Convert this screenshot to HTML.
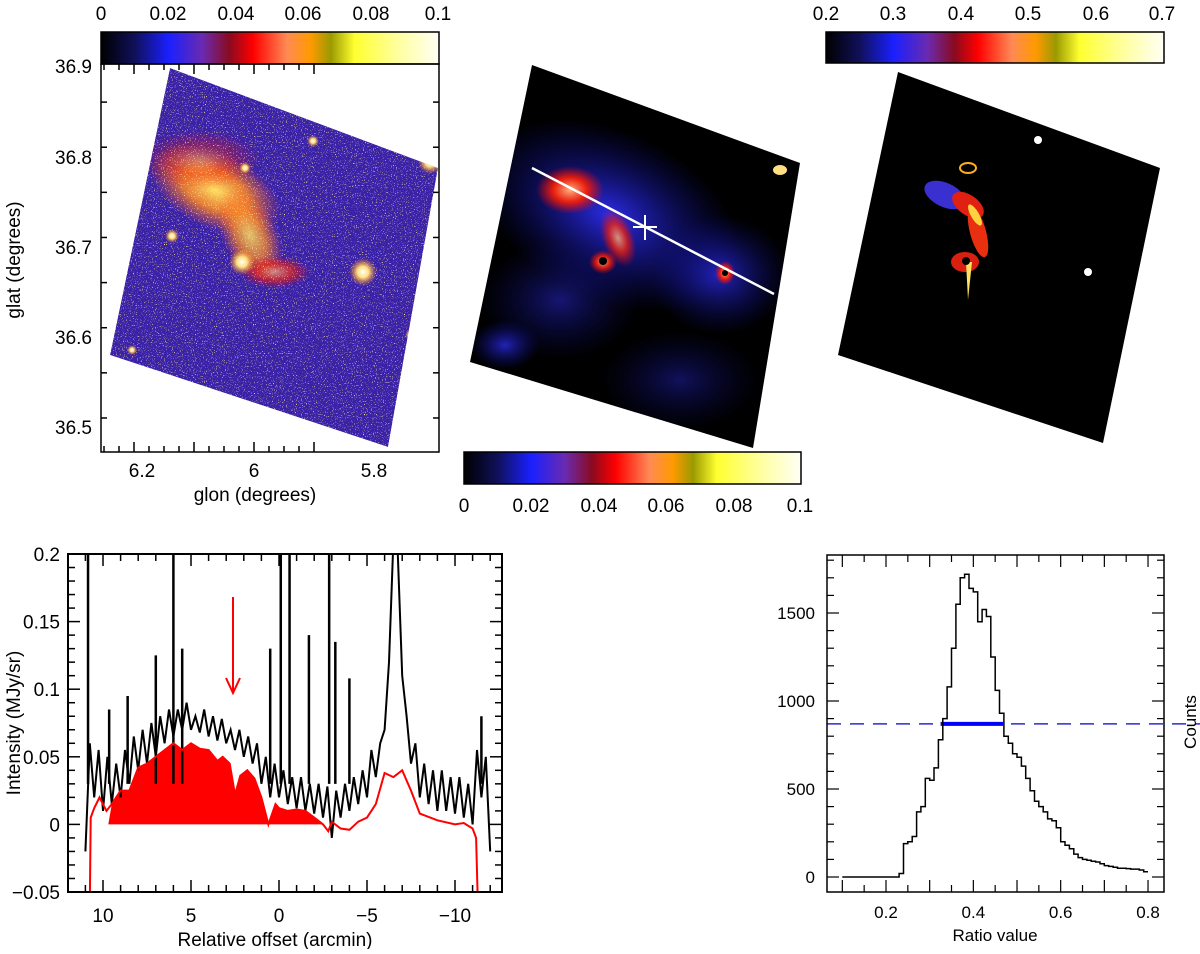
<!DOCTYPE html>
<html><head><meta charset="utf-8"><style>
body{margin:0;background:#fff;width:1200px;height:949px;overflow:hidden;font-family:"Liberation Sans",sans-serif}
svg text{font-family:"Liberation Sans",sans-serif}
</style></head><body>
<svg id="fig" width="1200" height="949" viewBox="0 0 1200 949" xmlns="http://www.w3.org/2000/svg">
<defs>
<linearGradient id="cmap" x1="0" x2="1" y1="0" y2="0">
<stop offset="0" stop-color="#000000"/><stop offset="0.1" stop-color="#10105a"/><stop offset="0.2" stop-color="#1a20ff"/><stop offset="0.3" stop-color="#6a2ab0"/><stop offset="0.38" stop-color="#8a0a20"/><stop offset="0.45" stop-color="#ff0000"/><stop offset="0.55" stop-color="#ff8a55"/><stop offset="0.62" stop-color="#ff9a00"/><stop offset="0.68" stop-color="#9a9a00"/><stop offset="0.75" stop-color="#ffff30"/><stop offset="0.88" stop-color="#ffffa0"/><stop offset="1" stop-color="#fffff5"/>
</linearGradient>
<filter id="speck" x="0" y="0" width="100%" height="100%"><feTurbulence type="fractalNoise" baseFrequency="0.9" numOctaves="1" seed="3"/><feColorMatrix type="matrix" values="0 0 0 0 1  0 0 0 0 0.8  0 0 0 0 0.4  0 0 0 9 -5.6"/><feComposite in2="SourceGraphic" operator="in"/></filter>
<radialGradient id="glowO"><stop offset="0" stop-color="#ffe060"/><stop offset="0.5" stop-color="#ff8a20" stop-opacity="0.85"/><stop offset="1" stop-color="#ff5020" stop-opacity="0"/></radialGradient>
<radialGradient id="glowR"><stop offset="0" stop-color="#ffb080"/><stop offset="0.5" stop-color="#ff2000" stop-opacity="0.9"/><stop offset="1" stop-color="#ff0000" stop-opacity="0"/></radialGradient>
<radialGradient id="glowB"><stop offset="0" stop-color="#3030ff" stop-opacity="0.9"/><stop offset="1" stop-color="#1010a0" stop-opacity="0"/></radialGradient>
<radialGradient id="star"><stop offset="0" stop-color="#fff"/><stop offset="0.4" stop-color="#ffe080"/><stop offset="1" stop-color="#ff8000" stop-opacity="0"/></radialGradient>
<clipPath id="clipL"><rect x="68" y="554" width="434" height="338"/></clipPath>
<clipPath id="clipLeftMap"><polygon points="170,68 438,168 388,447 110,355"/></clipPath>
<clipPath id="clipMid"><polygon points="532,65 800,163 753,448 470,362"/></clipPath>
</defs>

<!-- Top-left map -->
<g>
<rect x="101" y="32" width="338" height="32" fill="url(#cmap)" stroke="#000" stroke-width="1.5"/>
<g font-size="19" text-anchor="middle">
<text x="101" y="20">0</text><text x="168" y="20">0.02</text><text x="236" y="20">0.04</text><text x="303" y="20">0.06</text><text x="371" y="20">0.08</text><text x="438" y="20">0.1</text></g>
<g clip-path="url(#clipLeftMap)">
<polygon points="170,68 438,168 388,447 110,355" fill="#3a22a8"/>
<ellipse cx="215" cy="190" rx="70" ry="38" fill="url(#glowO)" transform="rotate(25 215 190)"/>
<ellipse cx="250" cy="235" rx="28" ry="50" fill="url(#glowO)" opacity="0.85" transform="rotate(-25 250 235)"/>
<ellipse cx="275" cy="272" rx="35" ry="16" fill="url(#glowR)" opacity="0.7"/>
<ellipse cx="200" cy="160" rx="60" ry="30" fill="url(#glowR)" opacity="0.4"/>
<polygon points="170,68 438,168 388,447 110,355" fill="#fff" filter="url(#speck)"/>
<circle cx="242" cy="262" r="13" fill="url(#star)"/><circle cx="363" cy="272" r="14" fill="url(#star)"/><circle cx="430" cy="162" r="12" fill="url(#star)"/><circle cx="172" cy="236" r="7" fill="url(#star)"/><circle cx="411" cy="335" r="6" fill="url(#star)"/><circle cx="132" cy="350" r="5" fill="url(#star)"/><circle cx="245" cy="168" r="6" fill="url(#star)"/><circle cx="313" cy="141" r="6" fill="url(#star)"/>
</g>
<rect x="101" y="64" width="338" height="388" fill="none" stroke="#000" stroke-width="1.5"/>
<g id="leftTicks"></g>
<g font-size="19" text-anchor="end">
<text x="92" y="73">36.9</text><text x="92" y="164">36.8</text><text x="92" y="254">36.7</text><text x="92" y="344">36.6</text><text x="92" y="434">36.5</text></g>
<g font-size="19" text-anchor="middle">
<text x="142" y="477">6.2</text><text x="254" y="477">6</text><text x="374" y="477">5.8</text></g>
<text x="255" y="501" font-size="19" text-anchor="middle">glon (degrees)</text>
<text transform="translate(20,260) rotate(-90)" font-size="19" text-anchor="middle">glat (degrees)</text>
</g>

<!-- Middle map -->
<g>
<polygon points="532,65 800,163 753,448 470,362" fill="#000"/>
<g clip-path="url(#clipMid)">
<ellipse cx="610" cy="215" rx="140" ry="85" fill="url(#glowB)" transform="rotate(25 610 215)"/>
<ellipse cx="720" cy="275" rx="70" ry="60" fill="url(#glowB)" opacity="0.8"/>
<ellipse cx="560" cy="300" rx="80" ry="60" fill="url(#glowB)" opacity="0.5"/>
<ellipse cx="680" cy="380" rx="80" ry="50" fill="url(#glowB)" opacity="0.4"/>
<ellipse cx="505" cy="345" rx="35" ry="25" fill="url(#glowB)" opacity="0.8"/>
<ellipse cx="570" cy="190" rx="34" ry="24" fill="url(#glowR)"/>
<ellipse cx="618" cy="238" rx="16" ry="30" fill="url(#glowR)" opacity="0.8" transform="rotate(-20 618 238)"/>
<ellipse cx="603" cy="262" rx="14" ry="12" fill="url(#glowR)" opacity="0.9"/>
<circle cx="603" cy="261" r="4" fill="#000"/>
<ellipse cx="725" cy="273" rx="10" ry="12" fill="url(#glowR)"/>
<circle cx="725" cy="273" r="3" fill="#000"/>
<ellipse cx="780" cy="170" rx="7" ry="5" fill="#ffe080"/>
</g>
<line x1="532" y1="168" x2="774" y2="294" stroke="#fff" stroke-width="2.5"/>
<g stroke="#fff" stroke-width="2"><line x1="633" y1="227" x2="657" y2="227"/><line x1="645" y1="215" x2="645" y2="240"/></g>
<rect x="464" y="452" width="337" height="32" fill="url(#cmap)" stroke="#000" stroke-width="1.5"/>
<g font-size="19" text-anchor="middle">
<text x="464" y="512">0</text><text x="531" y="512">0.02</text><text x="599" y="512">0.04</text><text x="666" y="512">0.06</text><text x="734" y="512">0.08</text><text x="800" y="512">0.1</text></g>
</g>

<!-- Right map -->
<g>
<rect x="826" y="32" width="338" height="31" fill="url(#cmap)" stroke="#000" stroke-width="1.5"/>
<g font-size="19" text-anchor="middle">
<text x="826" y="20">0.2</text><text x="893" y="20">0.3</text><text x="961" y="20">0.4</text><text x="1028" y="20">0.5</text><text x="1096" y="20">0.6</text><text x="1162" y="20">0.7</text></g>
<polygon points="898,72 1160,168 1103,443 838,355" fill="#000"/>
<g>
<ellipse cx="945" cy="195" rx="22" ry="12" fill="#3a30d0" transform="rotate(25 945 195)"/>
<ellipse cx="968" cy="205" rx="18" ry="10" fill="#e02010" transform="rotate(35 968 205)"/>
<ellipse cx="978" cy="232" rx="8" ry="26" fill="#e83010" transform="rotate(-15 978 232)"/>
<ellipse cx="975" cy="215" rx="4" ry="12" fill="#ffd040" transform="rotate(-30 975 215)"/>
<ellipse cx="965" cy="262" rx="14" ry="10" fill="#d82010"/>
<polygon points="966,262 972,262 968,300" fill="#ffe060"/>
<circle cx="966" cy="261" r="4" fill="#000"/>
<ellipse cx="968" cy="168" rx="8" ry="5" fill="none" stroke="#ffb020" stroke-width="2"/>
<circle cx="1038" cy="140" r="4" fill="#fff"/><circle cx="1088" cy="272" r="4" fill="#fff"/>
</g>
</g>

<!-- Bottom left profile -->
<g>
<g clip-path="url(#clipL)">
<path id="redFill" fill="#ff0000" stroke="none"/>
<path id="blackLine" fill="none" stroke="#000" stroke-width="2"/>
<g id="spikes"></g>
<path id="redLine" fill="none" stroke="#ff0000" stroke-width="2"/>
</g>
<g stroke="#ff0000" stroke-width="2" fill="none"><line x1="233" y1="597" x2="233" y2="693"/><polyline points="226,678 233,693 240,678"/></g>
<rect x="68" y="554" width="434" height="338" fill="none" stroke="#000" stroke-width="2"/>
<g id="profTicks"></g>
<text x="275" y="946" font-size="19" text-anchor="middle">Relative offset (arcmin)</text>
<text transform="translate(20,723) rotate(-90)" font-size="19" text-anchor="middle">Intensity (MJy/sr)</text>
</g>

<!-- Bottom right histogram -->
<g>
<line id="halfLine" x1="827" x2="1200" stroke="#2a2ad0" stroke-width="1.5" stroke-dasharray="14,9"/>
<line id="fwhmBar" stroke="#0000ff" stroke-width="4"/>
<path id="histLine" fill="none" stroke="#000" stroke-width="1.5"/>
<rect x="827" y="555" width="337" height="337" fill="none" stroke="#000" stroke-width="1.5"/>
<g id="histTicks"></g>
<text x="995" y="941" font-size="17" text-anchor="middle">Ratio value</text>
<text transform="translate(1196,722) rotate(-90)" font-size="17" text-anchor="middle">Counts</text>
</g>
</svg>
<script>
// ===== profile data =====
const profOffsets=[11,10.75,10.5,10.25,10,9.75,9.5,9.25,9,8.75,8.5,8.25,8,7.75,7.5,7.25,7,6.75,6.5,6.25,6,5.75,5.5,5.25,5,4.75,4.5,4.25,4,3.75,3.5,3.25,3,2.75,2.5,2.25,2,1.75,1.5,1.25,1,0.75,0.5,0.25,0,-0.25,-0.5,-0.75,-1,-1.25,-1.5,-1.75,-2,-2.25,-2.5,-2.75,-3,-3.25,-3.5,-3.75,-4,-4.25,-4.5,-4.75,-5,-5.25,-5.5,-5.75,-6,-6.25,-6.5,-6.75,-7,-7.25,-7.5,-7.75,-8,-8.25,-8.5,-8.75,-9,-9.25,-9.5,-9.75,-10,-10.25,-10.5,-10.75,-11,-11.25,-11.5,-11.75,-12];
const profValues=[-0.02,0.06,0.02,0.055,0.01,0.05,0.015,0.045,0.02,0.055,0.03,0.065,0.04,0.07,0.045,0.075,0.05,0.08,0.06,0.085,0.065,0.085,0.07,0.09,0.07,0.08,0.068,0.085,0.065,0.08,0.062,0.078,0.06,0.07,0.055,0.07,0.05,0.065,0.045,0.06,0.03,0.05,0.02,0.045,0.02,0.04,0.015,0.035,0.012,0.035,0.01,0.03,0.008,0.03,0.005,0.028,-0.01,0.025,0.005,0.03,0.01,0.035,0.015,0.04,0.02,0.055,0.035,0.06,0.07,0.12,0.21,0.2,0.11,0.08,0.045,0.06,0.02,0.045,0.015,0.04,0.01,0.04,0.01,0.035,0.008,0.035,0.005,0.03,0,0.055,0.02,0.05,-0.02];
const spikeOffsets=[10.85,9.65,8.6,7.0,6.0,5.5,0.5,-0.1,-0.6,-1.7,-2.85,-3.2,-4.0,-11.5];
const spikeValues=[0.21,0.085,0.095,0.125,0.21,0.13,0.13,0.21,0.21,0.14,0.21,0.135,0.108,0.08];
const modelOffsets=[10.75,10.7,10.5,10.2,9.8,9.5,9,8.5,8,7.5,7,6.5,6,5.5,5,4.5,4,3.5,3.2,2.8,2.5,2.2,1.8,1.4,1,0.8,0.6,0.2,0,-0.5,-1,-1.5,-2,-2.5,-2.8,-3,-3.5,-4,-4.5,-5,-5.5,-6,-6.5,-7,-7.5,-8,-9,-10,-10.5,-11,-11.2,-11.3];
const modelValues=[-0.06,0.005,0.012,0.02,0.01,0.015,0.025,0.025,0.042,0.045,0.05,0.055,0.06,0.055,0.06,0.056,0.055,0.047,0.05,0.045,0.022,0.036,0.04,0.034,0.02,0.01,0.0,0.015,0.012,0.01,0.011,0.01,0.005,0.0,-0.005,0.002,-0.003,-0.004,0.002,0.005,0.015,0.038,0.035,0.04,0.025,0.008,0.003,0.0,0.001,-0.003,-0.01,-0.06];
const fillFrom=9.7, fillTo=-2.5;
const profXTicks=[10,5,0,-5,-10];
const profYTicks=[-0.05,0,0.05,0.1,0.15,0.2];
const profYLabels=["\u22120.05","0","0.05","0.1","0.15","0.2"];
const profXLabels=["10","5","0","\u22125","\u221210"];
// ===== histogram data =====
const histBins=[0.10,0.11,0.12,0.13,0.14,0.15,0.16,0.17,0.18,0.19,0.20,0.21,0.22,0.23,0.24,0.25,0.26,0.27,0.28,0.29,0.30,0.31,0.32,0.33,0.34,0.35,0.36,0.37,0.38,0.39,0.40,0.41,0.42,0.43,0.44,0.45,0.46,0.47,0.48,0.49,0.50,0.51,0.52,0.53,0.54,0.55,0.56,0.57,0.58,0.59,0.60,0.61,0.62,0.63,0.64,0.65,0.66,0.67,0.68,0.69,0.70,0.71,0.72,0.73,0.74,0.75,0.76,0.77,0.78,0.79];
const histCounts=[0,0,0,0,0,0,0,0,0,0,0,0,0,20,190,200,230,370,400,560,550,620,780,900,1080,1300,1550,1700,1720,1640,1620,1450,1520,1480,1250,1060,930,800,760,700,680,630,560,490,430,400,370,330,320,280,200,180,160,130,110,100,95,90,85,75,65,60,55,50,50,48,45,45,40,30];
const halfMax=870, fwhmLow=0.325, fwhmHigh=0.468;
const histXTicks=[0.2,0.4,0.6,0.8];
const histYTicks=[0,500,1000,1500];

const NS="http://www.w3.org/2000/svg";
function mk(tag,attrs,parent){const e=document.createElementNS(NS,tag);for(const k in attrs)e.setAttribute(k,attrs[k]);parent.appendChild(e);return e;}
const px=o=>279-o*17.6;
const py=v=>824.4-v*1352;
const hx=r=>886+(r-0.2)*436.7;
const hy=c=>877-c*0.176;

let d="";profOffsets.forEach((o,i)=>{d+=(i?"L":"M")+px(o).toFixed(1)+","+py(profValues[i]).toFixed(1);});
document.getElementById("blackLine").setAttribute("d",d);
let r="";modelOffsets.forEach((o,i)=>{r+=(i?"L":"M")+px(o).toFixed(1)+","+py(modelValues[i]).toFixed(1);});
document.getElementById("redLine").setAttribute("d",r);
let f="M"+px(fillFrom)+","+py(0);
modelOffsets.forEach((o,i)=>{if(o<=fillFrom&&o>=fillTo)f+="L"+px(o).toFixed(1)+","+py(Math.max(0,modelValues[i])).toFixed(1);});
f+="L"+px(fillTo)+","+py(0)+"Z";
document.getElementById("redFill").setAttribute("d",f);
const sg=document.getElementById("spikes");
spikeOffsets.forEach((o,i)=>{
  const ln=mk("line",{x1:px(o),x2:px(o),y1:py(0.03),y2:py(spikeValues[i]),stroke:"#000","stroke-width":2.5},sg);
  
  
});
const pt=document.getElementById("profTicks");
for(let o=-12;o<=11;o++){const L=(o%5===0)?12:7;mk("line",{x1:px(o),x2:px(o),y1:892,y2:892-L,stroke:"#000","stroke-width":1.5},pt);mk("line",{x1:px(o),x2:px(o),y1:554,y2:554+L,stroke:"#000","stroke-width":1.5},pt);}
for(let k=-5;k<=20;k++){const v=k/100;const L=(k%5===0)?12:7;mk("line",{x1:68,x2:68+L,y1:py(v),y2:py(v),stroke:"#000","stroke-width":1.5},pt);mk("line",{x1:502,x2:502-L,y1:py(v),y2:py(v),stroke:"#000","stroke-width":1.5},pt);}
profXTicks.forEach((o,i)=>{const t=mk("text",{x:px(o),y:922,"font-size":19,"text-anchor":"middle"},pt);t.textContent=profXLabels[i];
  
  });
profYTicks.forEach((v,i)=>{const t=mk("text",{x:60,y:py(v)+7,"font-size":19,"text-anchor":"end"},pt);t.textContent=profYLabels[i];
  
  });

let h="";histBins.forEach((b,i)=>{const y=hy(histCounts[i]).toFixed(1);h+=(i?"L":"M")+hx(b).toFixed(1)+","+y+"L"+hx(b+0.01).toFixed(1)+","+y;});
document.getElementById("histLine").setAttribute("d",h);
const hl=document.getElementById("halfLine");hl.setAttribute("y1",hy(halfMax));hl.setAttribute("y2",hy(halfMax));
const fb=document.getElementById("fwhmBar");fb.setAttribute("x1",hx(fwhmLow));fb.setAttribute("x2",hx(fwhmHigh));fb.setAttribute("y1",hy(halfMax));fb.setAttribute("y2",hy(halfMax));
const ht=document.getElementById("histTicks");
for(let k=1;k<=16;k++){const rr=k*0.05;const x=hx(rr);if(x<827||x>1164)continue;const L=(k%2===0)?12:7;mk("line",{x1:x,x2:x,y1:892,y2:892-L,stroke:"#000","stroke-width":1.2},ht);mk("line",{x1:x,x2:x,y1:555,y2:555+L,stroke:"#000","stroke-width":1.2},ht);}
for(let c=0;c<=1800;c+=100){const y=hy(c);if(y<555)continue;const L=(c%500===0)?12:7;mk("line",{x1:827,x2:827+L,y1:y,y2:y,stroke:"#000","stroke-width":1.2},ht);mk("line",{x1:1164,x2:1164-L,y1:y,y2:y,stroke:"#000","stroke-width":1.2},ht);}
histXTicks.forEach(v=>{const t=mk("text",{x:hx(v),y:918,"font-size":17,"text-anchor":"middle"},ht);t.textContent=String(v);
  
  });
histYTicks.forEach(v=>{const t=mk("text",{x:815,y:hy(v)+6,"font-size":17,"text-anchor":"end"},ht);t.textContent=String(v);
  
  });

const lt=document.getElementById("leftTicks");
const gy=v=>66+(36.9-v)*902.5, gx=v=>254+(6-v)*600;
for(let k=0;k<=9;k++){const v=36.46+k*0.05;const y=gy(v);if(y<64||y>452)continue;const L=(Math.round(v*100)%10===0)?10:6;mk("line",{x1:101,x2:101+L,y1:y,y2:y,stroke:"#000","stroke-width":1.5},lt);mk("line",{x1:439,x2:439-L,y1:y,y2:y,stroke:"#000","stroke-width":1.5},lt);}
for(let k=0;k<=14;k++){const v=6.25-k*0.025;const x=gx(v);if(x<101||x>439)continue;const L=(Math.round(v*1000)%100===0)?10:6;mk("line",{x1:x,x2:x,y1:452,y2:452-L,stroke:"#000","stroke-width":1.5},lt);mk("line",{x1:x,x2:x,y1:64,y2:64+L,stroke:"#000","stroke-width":1.5},lt);}
</script>
</body></html>
